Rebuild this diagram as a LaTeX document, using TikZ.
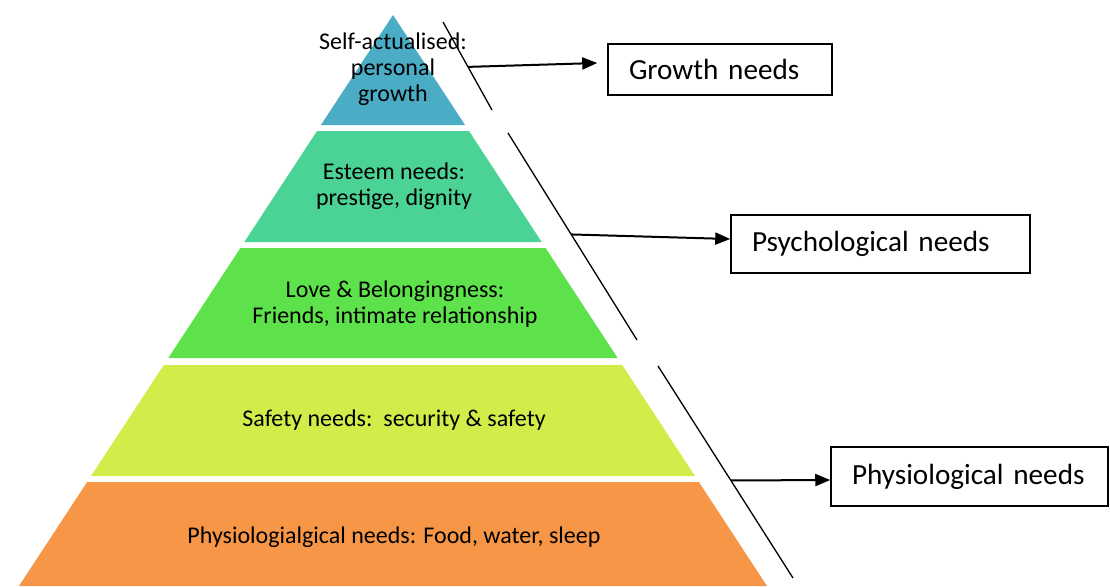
\documentclass[tikz,border=0pt]{standalone}
\usepackage{fontspec}
\setmainfont{Carlito}
\usepackage{tikz}
\usetikzlibrary{calc, arrows.meta}

\definecolor{selfcol}{RGB}{75,172,198}
\definecolor{esteemcol}{RGB}{74,211,148}
\definecolor{lovecol}{RGB}{94,226,75}
\definecolor{safetycol}{RGB}{212,236,74}
\definecolor{physiocol}{RGB}{247,150,70}

\tikzset{
  layertext/.style={align=center, font=\fontsize{12}{13}\selectfont},
  needbox/.style={draw, line width=0.75pt, align=left, inner xsep=10.5pt,
    font=\fontsize{14.6}{16}\selectfont},
  divider/.style={line width=0.65pt},
  needarrow/.style={line width=1pt, -{Triangle[length=7.5pt,width=6pt]}}
}

\begin{document}
\begin{tikzpicture}[x=0.5pt, y=-0.5pt]
        \useasboundingbox (0,0) rectangle (1110,586);

        % pyramid layers
        \foreach \t/\b/\c in {15/125/selfcol, 131/242/esteemcol, 248/358/lovecol, 365/476/safetycol, 482/586/physiocol}
            \fill[\c] ({393-0.655*(\t-15)},\t) -- ({393+0.655*(\t-15)},\t) -- ({393+0.655*(\b-15)},\b) -- ({393-0.655*(\b-15)},\b) -- cycle;

        \node[layertext] (self) at (393,69) {Self-actualised:\\personal\\growth};
        \node[layertext] (esteem) at (394,186) {Esteem needs:\\prestige, dignity};
        \node[layertext] (love) at (395,304) {Love \& Belongingness:\\Friends, intimate relationship};
        \node[layertext] (safety) at (394,420) {Safety needs:\ \ security \& safety};
        \node[layertext] (physio) at (394,537) {Physiologialgical needs: Food, water, sleep};

        % dividers beside the pyramid
        \coordinate (l1a) at (443,22);  \coordinate (l1b) at (492,110);
        \coordinate (l2a) at (508,133); \coordinate (l2b) at (637,340);
        \coordinate (l3a) at (658,366); \coordinate (l3b) at (793,578);
        \draw[divider] (l1a) -- (l1b);
        \draw[divider] (l2a) -- (l2b);
        \draw[divider] (l3a) -- (l3b);

        % need boxes
        \node[needbox, text width=91pt, minimum height=25.5pt] (growth) at (720,69.5) {Growth needs};
        \node[needbox, text width=128.5pt, minimum height=29pt] (psycho) at (880.5,244) {Psychological needs};
        \node[needbox, text width=117.5pt, minimum height=29.5pt] (physiobox) at (969.5,476.5) {Physiological needs};

        \draw[needarrow] ($(l1a)!0.51!(l1b)$) -- ($(growth.west)+(-10,-6.5)$);
        \draw[needarrow] ($(l2a)!0.49!(l2b)$) -- ($(psycho.west)+(0,-5)$);
        \draw[needarrow] ($(l3a)!0.54!(l3b)$) -- ($(physiobox.west)+(0,3.5)$);
    \end{tikzpicture}
\end{document}
